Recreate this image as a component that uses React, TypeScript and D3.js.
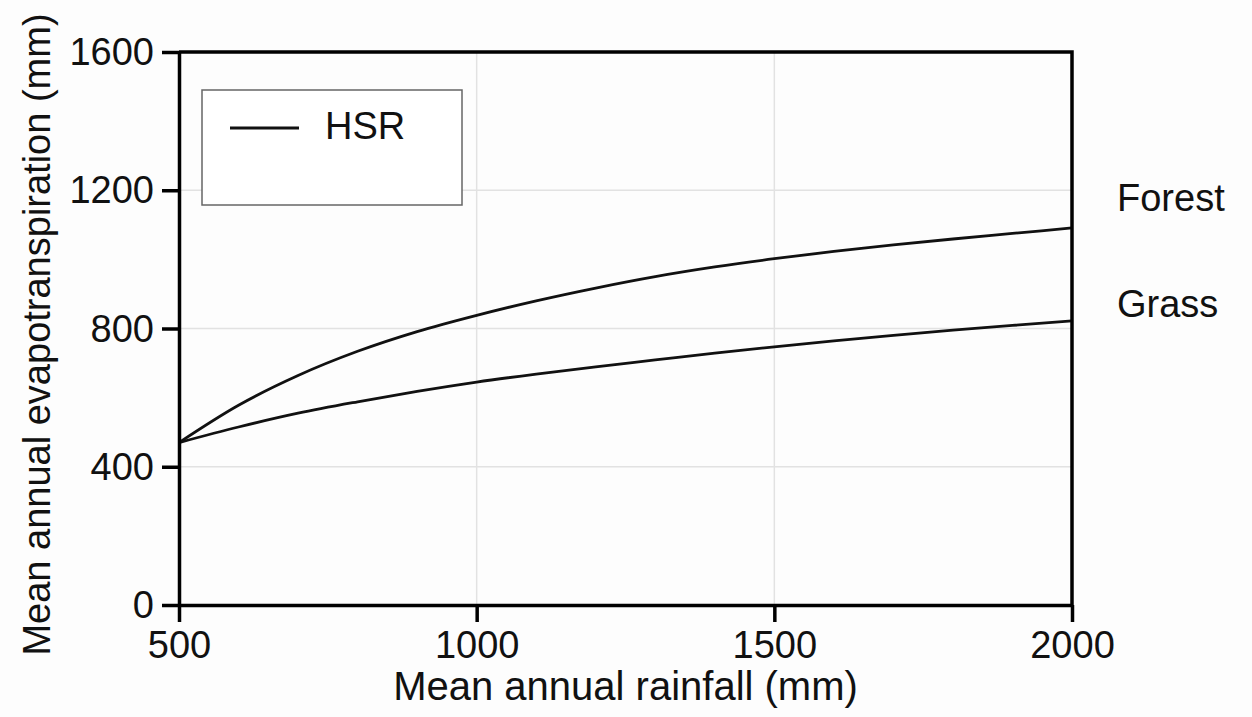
import React, { useRef, useEffect } from 'react';
import * as d3 from 'd3';

// rainfall (mm) sample points
const rainfall = [500, 600, 700, 800, 900, 1000, 1100, 1200, 1300, 1400, 1500, 1600, 1700, 1800, 1900, 2000];
// evapotranspiration (mm)
const forestET = [470, 578, 664, 734, 791, 838, 880, 917, 950, 978, 1002, 1023, 1042, 1059, 1075, 1091];
const grassET = [470, 515, 555, 588, 618, 645, 668, 689, 709, 729, 747, 764, 780, 795, 809, 822];

const xTicks = [500, 1000, 1500, 2000];
const yTicks = [0, 400, 800, 1200, 1600];
const seriesNames = ['Forest', 'Grass'];
const legendLabel = 'HSR';

const FONT = 'Liberation Sans, Arial, Helvetica, sans-serif';

function App() {
  const svgRef = useRef<SVGSVGElement | null>(null);

  useEffect(() => {
    const width = 1252;
    const height = 717;
    const margin = { top: 52, right: 180, bottom: 112, left: 179 };

    const svg = d3.select(svgRef.current)
      .attr('width', width)
      .attr('height', height);
    svg.selectAll('*').remove();

    svg.append('rect')
      .attr('width', width)
      .attr('height', height)
      .attr('fill', '#fdfdfd');

    const x = d3.scaleLinear()
      .domain([500, 2000])
      .range([margin.left, width - margin.right]);

    const y = d3.scaleLinear()
      .domain([0, 1600])
      .range([height - margin.bottom, margin.top]);

    // grid lines
    const grid = svg.append('g').attr('class', 'grid');
    grid.selectAll('line.gy')
      .data(yTicks.filter(t => t > 0 && t < 1600))
      .enter()
      .append('line')
      .attr('class', 'gy')
      .attr('x1', x(500))
      .attr('x2', x(2000))
      .attr('y1', d => y(d))
      .attr('y2', d => y(d))
      .attr('stroke', '#e2e2e2')
      .attr('stroke-width', 1.5);
    grid.selectAll('line.gx')
      .data(xTicks.filter(t => t > 500 && t < 2000))
      .enter()
      .append('line')
      .attr('class', 'gx')
      .attr('x1', d => x(d))
      .attr('x2', d => x(d))
      .attr('y1', y(0))
      .attr('y2', y(1600))
      .attr('stroke', '#e2e2e2')
      .attr('stroke-width', 1.5);

    // curves
    const line = d3.line<number>()
      .x((_, i) => x(rainfall[i]))
      .y(d => y(d))
      .curve(d3.curveMonotoneX);

    [forestET, grassET].forEach(vals => {
      svg.append('path')
        .datum(vals)
        .attr('d', line)
        .attr('fill', 'none')
        .attr('stroke', '#111')
        .attr('stroke-width', 2.8);
    });

    // frame (top + right)
    svg.append('path')
      .attr('d', `M${x(500)},${y(1600)}H${x(2000)}V${y(0)}`)
      .attr('fill', 'none')
      .attr('stroke', '#000')
      .attr('stroke-width', 3.5);

    // axes
    const fmt = d3.format('d');
    const xAxis = svg.append('g')
      .attr('transform', `translate(0, ${y(0)})`)
      .call(d3.axisBottom(x).tickValues(xTicks).tickFormat(fmt).tickSize(17).tickPadding(9).tickSizeOuter(0));
    const yAxis = svg.append('g')
      .attr('transform', `translate(${x(500)}, 0)`)
      .call(d3.axisLeft(y).tickValues(yTicks).tickFormat(fmt).tickSize(17).tickPadding(8).tickSizeOuter(0));

    [xAxis, yAxis].forEach(ax => {
      ax.select('.domain').attr('stroke', '#000').attr('stroke-width', 3.5);
      ax.selectAll('.tick line').attr('stroke', '#000').attr('stroke-width', 3.5);
      ax.selectAll('.tick text')
        .attr('fill', '#111')
        .style('font-family', FONT)
        .style('font-size', '38px');
    });
    xAxis.selectAll('.tick text').attr('dy', '0.71em');
    yAxis.selectAll('.tick text').attr('dy', '0.33em');

    // axis titles
    svg.append('text')
      .attr('x', (x(500) + x(2000)) / 2)
      .attr('y', 700)
      .attr('text-anchor', 'middle')
      .style('font-family', FONT)
      .style('font-size', '40px')
      .attr('fill', '#111')
      .text('Mean annual rainfall (mm)');

    svg.append('text')
      .attr('transform', `translate(50, ${(y(0) + y(1600)) / 2 + 6}) rotate(-90)`)
      .attr('text-anchor', 'middle')
      .style('font-family', FONT)
      .style('font-size', '38px')
      .attr('fill', '#111')
      .text('Mean annual evapotranspiration (mm)');

    // series labels at right
    svg.selectAll('text.series')
      .data(seriesNames)
      .enter()
      .append('text')
      .attr('class', 'series')
      .attr('x', x(2000) + 45)
      .attr('y', (_, i) => [211, 317][i])
      .style('font-family', FONT)
      .style('font-size', '38px')
      .attr('fill', '#111')
      .text(d => d);

    // legend
    const legend = svg.append('g').attr('transform', 'translate(202, 90)');
    legend.append('rect')
      .attr('width', 260)
      .attr('height', 115)
      .attr('fill', '#fff')
      .attr('stroke', '#666')
      .attr('stroke-width', 1.5);
    legend.append('line')
      .attr('x1', 28)
      .attr('x2', 97)
      .attr('y1', 38)
      .attr('y2', 38)
      .attr('stroke', '#111')
      .attr('stroke-width', 2.8);
    legend.append('text')
      .attr('x', 123)
      .attr('y', 49)
      .style('font-family', FONT)
      .style('font-size', '38px')
      .attr('fill', '#111')
      .text(legendLabel);
  }, []);

  return (
    <svg
      ref={svgRef}
      style={{ position: 'absolute', left: 0, top: 0, display: 'block' }}
    ></svg>
  );
}

export default App;
